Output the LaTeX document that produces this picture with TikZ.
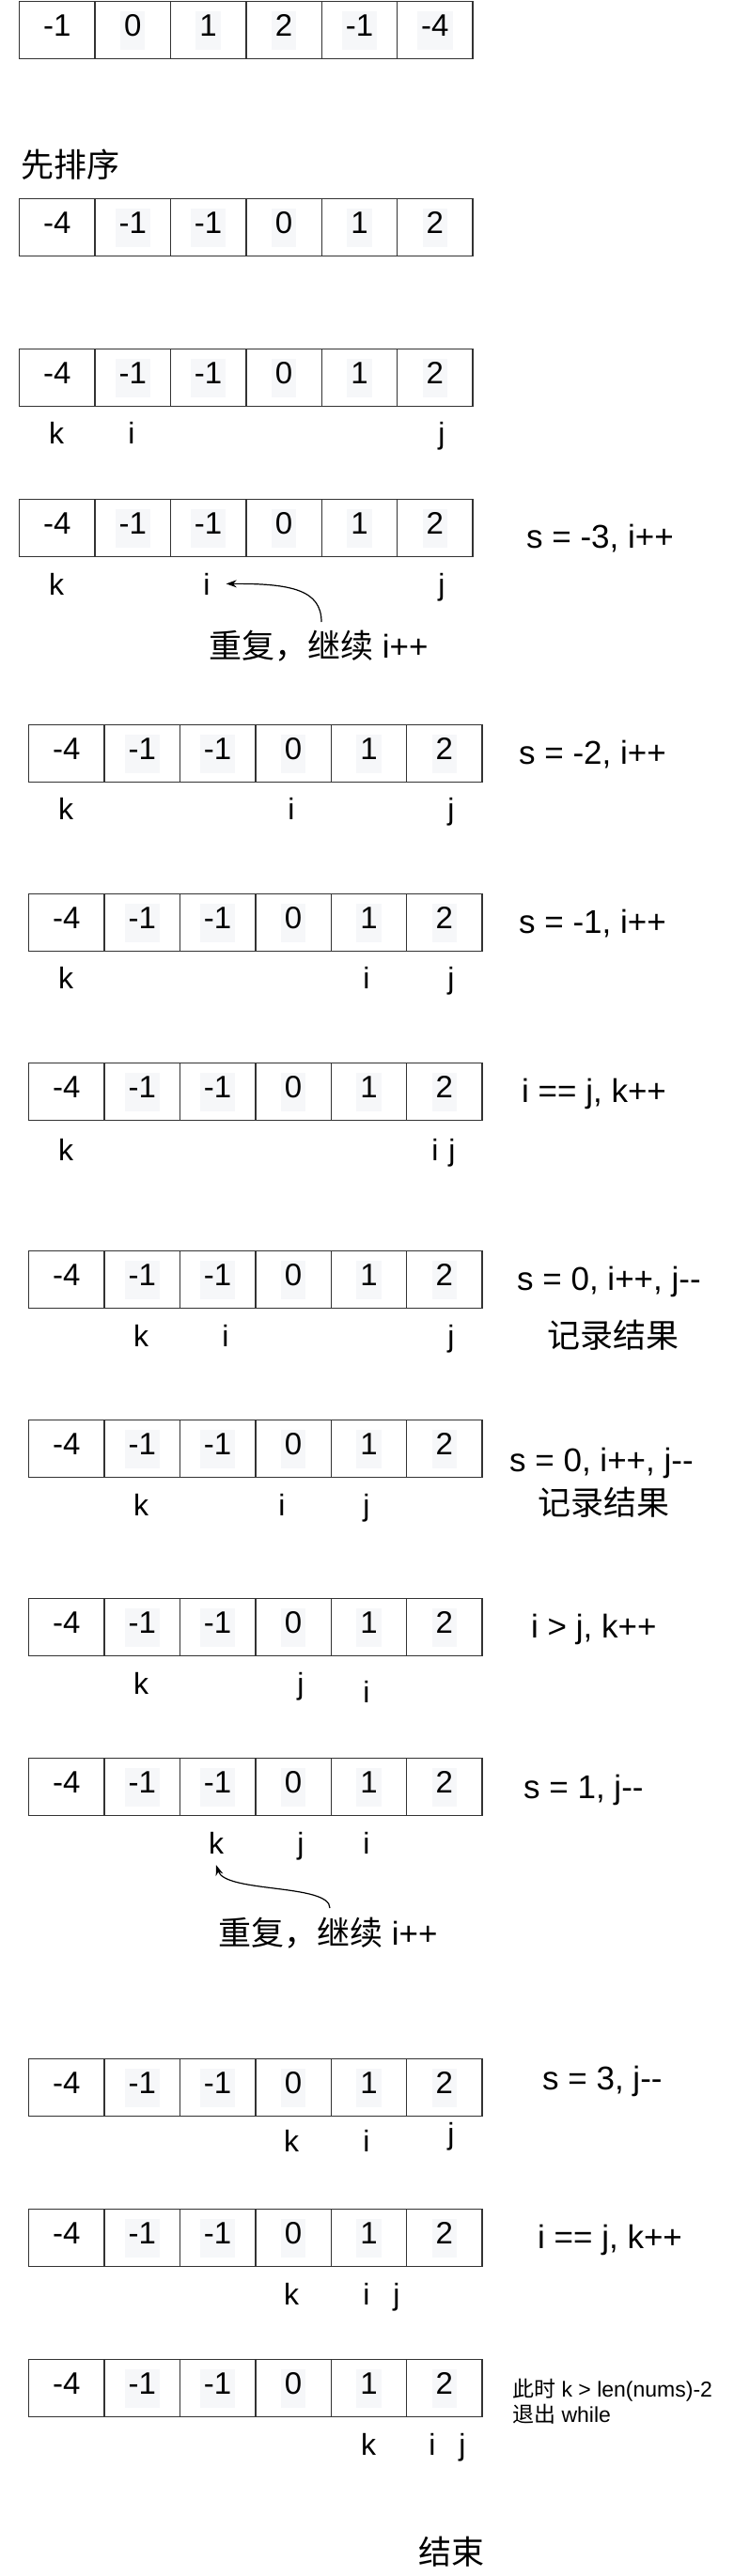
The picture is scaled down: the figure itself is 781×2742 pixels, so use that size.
\documentclass[tikz,border=0pt]{standalone}
\usepackage{fontspec}
\setmainfont{Liberation Sans}
\newfontfamily\cjk{Noto Sans CJK SC}
\usetikzlibrary{arrows.meta}
\definecolor{hl}{HTML}{F6F7F9}
\definecolor{bd}{HTML}{333333}
\tikzset{
  cell/.style={draw=bd, line width=1.3pt, minimum width=80.4pt, minimum height=61pt, inner sep=0pt, anchor=north west},
  num/.style={font=\fontsize{33}{37}\selectfont, inner xsep=4pt, inner ysep=0pt, text height=27pt, text depth=14pt},
  ptr/.style={font=\fontsize{32}{36}\selectfont, anchor=base, inner sep=0pt},
  note/.style={font=\fontsize{35}{39}\selectfont, anchor=base west, inner sep=0pt},
  small/.style={font=\fontsize{23}{27}\selectfont, anchor=base west, inner sep=0pt},
  cnote/.style={font=\fontsize{35}{39}\selectfont\cjk, anchor=base west, inner sep=0pt},
  arr/.style={line width=1.2pt, -{Stealth[length=11pt,width=8pt]}},
}
\newcommand\drawarr[4]{%
  \foreach \v [count=\c] in {#4} {
    \node[cell] (#1c\c) at ({#2+(\c-1)*80.4}, #3) {};
    \ifnum\c=1
      \node[num] (#1n\c) at (#1c\c.center) {\v};
    \else
      \node[num, fill=hl] (#1n\c) at (#1c\c.center) {\v};
    \fi
  }%
}
\begin{document}
\begin{tikzpicture}[x=1pt, y=-1pt]
\fill[white] (0,0) rectangle (781,2742);
\useasboundingbox (0,0) rectangle (781,2742);

\drawarr{a1}{20}{1}{-1,0,1,2,-1,-4}
\node[cnote] (sort) at (22,188) {先排序};
\drawarr{a2}{20}{211}{-4,-1,-1,0,1,2}

\drawarr{a3}{20}{371}{-4,-1,-1,0,1,2}
\node[ptr] (r3k) at (60,472) {k};
\node[ptr] (r3i) at (140,472) {i};
\node[ptr] (r3j) at (470,472) {j};

\drawarr{a4}{20}{531}{-4,-1,-1,0,1,2}
\node[note] (n4) at (560,583) {s = -3, i++};
\node[ptr] (r4k) at (60,633) {k};
\node[ptr] (r4i) at (220,633) {i};
\node[ptr] (r4j) at (470,633) {j};
\node[note] (t1) at (222,700) {{\cjk 重复，继续} i++};
\coordinate (t1s) at (342,662);
\draw[arr] (t1s) .. controls (342,628) and (310,621) .. ([xshift=17pt]r4i.east);

\drawarr{a5}{30}{771}{-4,-1,-1,0,1,2}
\node[note] (n5) at (552,813) {s = -2, i++};
\node[ptr] (r5k) at (70,872) {k};
\node[ptr] (r5i) at (310,872) {i};
\node[ptr] (r5j) at (480,872) {j};

\drawarr{a6}{30}{951}{-4,-1,-1,0,1,2}
\node[note] (n6) at (552,993) {s = -1, i++};
\node[ptr] (r6k) at (70,1052) {k};
\node[ptr] (r6i) at (390,1052) {i};
\node[ptr] (r6j) at (480,1052) {j};

\drawarr{a7}{30}{1131}{-4,-1,-1,0,1,2}
\node[note] (n7) at (555,1173) {i == j, k++};
\node[ptr] (r7k) at (70,1235) {k};
\node[ptr] (r7i) at (463,1235) {i};
\node[ptr] (r7j) at (481,1235) {j};

\drawarr{a8}{30}{1331}{-4,-1,-1,0,1,2}
\node[note] (n8) at (550,1373) {s = 0, i++, j-{}-};
\node[cnote] (c8) at (582,1434) {记录结果};
\node[ptr] (r8k) at (150,1433) {k};
\node[ptr] (r8i) at (240,1433) {i};
\node[ptr] (r8j) at (480,1433) {j};

\drawarr{a9}{30}{1511}{-4,-1,-1,0,1,2}
\node[note] (n9) at (542,1566) {s = 0, i++, j-{}-};
\node[cnote] (c9) at (572,1612) {记录结果};
\node[ptr] (r9k) at (150,1613) {k};
\node[ptr] (r9i) at (300,1613) {i};
\node[ptr] (r9j) at (390,1613) {j};

\drawarr{a10}{30}{1701}{-4,-1,-1,0,1,2}
\node[note] (n10) at (565,1743) {i > j, k++};
\node[ptr] (r10k) at (150,1803) {k};
\node[ptr] (r10j) at (320,1803) {j};
\node[ptr] (r10i) at (390,1812) {i};

\drawarr{a11}{30}{1871}{-4,-1,-1,0,1,2}
\node[note] (n11) at (557,1914) {s = 1, j-{}-};
\node[ptr] (r11k) at (230,1973) {k};
\node[ptr] (r11j) at (320,1973) {j};
\node[ptr] (r11i) at (390,1973) {i};
\node[note] (t2) at (232,2070) {{\cjk 重复，继续} i++};
\coordinate (t2s) at (351,2031);
\draw[arr] (t2s) .. controls (351,2005) and (240,2015) .. ([yshift=-12pt]r11k.south);

\drawarr{a12}{30}{2191}{-4,-1,-1,0,1,2}
\node[note] (n12) at (577,2224) {s = 3, j-{}-};
\node[ptr] (r12k) at (310,2290) {k};
\node[ptr] (r12i) at (390,2290) {i};
\node[ptr] (r12j) at (480,2282) {j};

\drawarr{a13}{30}{2351}{-4,-1,-1,0,1,2}
\node[note] (n13) at (572,2393) {i == j, k++};
\node[ptr] (r13k) at (310,2453) {k};
\node[ptr] (r13i) at (390,2453) {i};
\node[ptr] (r13j) at (422,2453) {j};

\drawarr{a14}{30}{2511}{-4,-1,-1,0,1,2}
\node[small] (n14a) at (545,2551) {{\cjk 此时} k > len(nums)-2};
\node[small] (n14b) at (545,2578) {{\cjk 退出} while};
\node[ptr] (r14k) at (392,2613) {k};
\node[ptr] (r14i) at (460,2613) {i};
\node[ptr] (r14j) at (492,2613) {j};

\node[cnote] (end) at (445,2729) {结束};
\end{tikzpicture}
\end{document}
